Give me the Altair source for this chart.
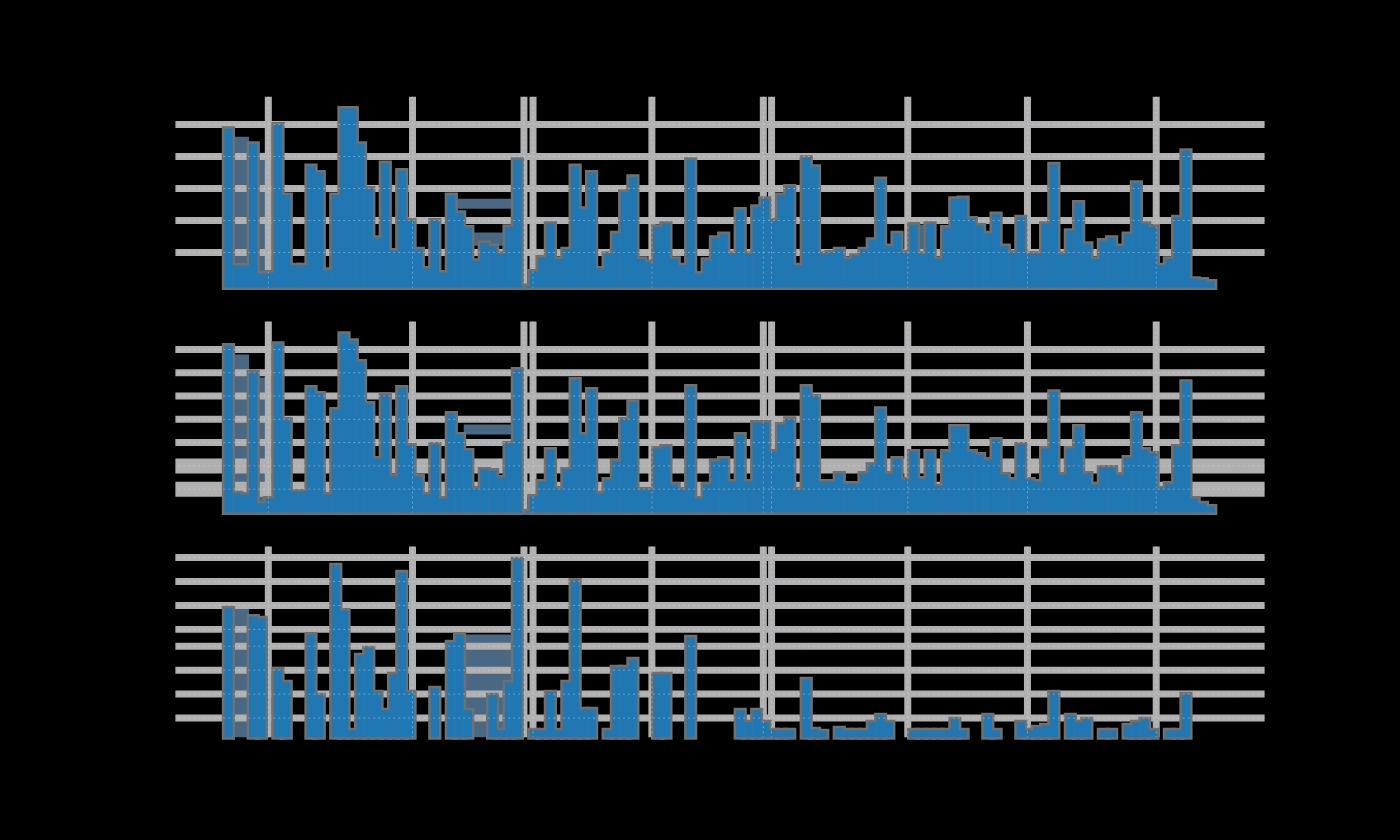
import altair as alt
import pandas as pd

# ---- data ----
panel1 = [49.7, 6.9, 6.9, 45, 4.4, 4.7, 51, 29, 7, 7,
          38, 36, 5.6, 29, 56, 56, 45, 31, 15.6, 39,
          11.6, 36.6, 21, 12, 6, 21, 4.7, 29, 23.4, 18.8,
          8.4, 14, 13, 10.6, 19, 40, 0.5, 5, 9.4, 20,
          9, 12, 38, 24.7, 36, 6, 10.6, 17, 30, 34.7,
          9, 8, 19, 20, 9, 7, 40, 4.4, 8.7, 15.6,
          16.8, 10.6, 24.4, 10.6, 25.3, 27.8, 21, 29, 31.6, 7,
          40.6, 37.8, 10.6, 11, 12, 9, 10, 12, 15, 34,
          13, 17, 11, 19.7, 10.6, 20, 9, 18.8, 27.8, 28,
          21.6, 19.4, 17, 23, 13, 11, 22, 10.6, 10.6, 20,
          38.6, 10.6, 17.8, 26.6, 13.7, 9, 14.7, 15.6, 13, 16.8,
          32.8, 20, 19, 7, 9, 22, 42.8, 2.8, 2.5, 1.9]

panel2 = [71.7, 8.2, 7.7, 60.1, 3.9, 6.0, 72.5, 39.9, 9.0, 9.0,
          53.7, 51.1, 7.7, 44.2, 76.8, 73.8, 64.8, 46.8, 23.2, 50.6,
          15.5, 53.7, 28.8, 15.5, 7.7, 29.2, 6.0, 42.5, 33.5, 26.6,
          10.3, 18.5, 18.0, 15.0, 29.6, 61.4, 0.4, 6.9, 13.3, 27.0,
          10.3, 18.5, 57.1, 33.5, 52.8, 8.2, 14.2, 21.9, 39.9, 47.6,
          9.9, 9.9, 27.5, 28.3, 12.0, 9.9, 54.1, 6.0, 12.0, 21.9,
          23.2, 13.3, 33.5, 13.3, 38.6, 38.6, 26.2, 37.8, 40.3, 9.9,
          54.1, 49.8, 13.3, 13.3, 16.7, 12.4, 12.4, 16.7, 20.6, 44.6,
          16.7, 23.2, 14.2, 26.2, 14.6, 26.2, 11.2, 26.2, 36.9, 36.9,
          26.2, 24.9, 22.7, 31.3, 16.3, 14.2, 29.2, 14.2, 13.3, 27.5,
          51.9, 16.3, 27.5, 36.9, 16.7, 12.0, 19.3, 19.3, 16.3, 23.6,
          42.5, 27.0, 25.3, 10.3, 12.4, 28.3, 56.2, 6.0, 3.9, 2.6]

panel3 = [53.8, 0, 0, 50.4, 49.6, 0, 28.3, 22.9, 0, 0,
          42.9, 17.5, 0, 71.7, 52.9, 2.9, 34.2, 37.1, 18.8, 11.3,
          26.3, 68.8, 18.8, 0, 0, 20.4, 0, 39.6, 42.9, 11.3,
          0, 0, 17.5, 2.9, 22.9, 74.2, 0, 2.9, 2.9, 18.8,
          2.9, 22.9, 65.4, 11.7, 11.7, 0, 2.9, 29.2, 29.2, 32.5,
          0, 0, 26.3, 26.3, 0, 0, 41.7, 0, 0, 0,
          0, 0, 11.3, 6.3, 11.3, 6.3, 2.9, 2.9, 2.9, 0,
          24.2, 3.3, 2.5, 0, 3.8, 2.9, 2.9, 2.9, 6.3, 9.2,
          6.3, 0, 0, 2.9, 2.9, 2.9, 2.9, 2.9, 7.5, 2.9,
          0, 0, 9.2, 2.9, 0, 0, 6.3, 2.9, 4.2, 5,
          18.8, 0, 9.2, 6.3, 7.5, 0, 2.9, 2.9, 0, 5,
          6.3, 7.5, 2.9, 0, 2.9, 2.9, 17.9, 0, 0, 0]

# shaded (slate) ranges behind the bars: first bin, last bin, low, high
shade1 = [(1, 2, 6.9, 47.2), (4, 4, 4.4, 42.2), (28, 34, 24.7, 27.8),
          (30, 33, 13.1, 17.2), (84, 84, 10.6, 19.7)]
shade2 = [(1, 2, 7.7, 67.8), (4, 4, 3.9, 58.0), (29, 34, 33.5, 37.8)]
shade3 = [(1, 2, 0, 55.4), (29, 34, 0, 42.9)]

x_ticks = [5.33, 22.8, 36.3, 37.4, 51.8, 65.3, 66.3, 82.8, 97.3, 112.9]
y_ticks1 = [11, 21, 31, 41, 51]
y_ticks2 = [30, 40, 50, 60, 70]
y_ticks2_thick = [10, 20]
y_ticks3 = [8, 18, 28, 38, 45, 55, 65, 75]
y_max = [59.7, 82.0, 79.6]
x_domain = [-5.93, 126.03]

BLUE = "#1f77b4"
GRID = "#b0b0b0"
EDGE = "#707070"
SLATE = "#4a6883"
W, H = 1090, 191

xs = alt.Scale(domain=x_domain, nice=False, zero=False)


def panel(values, ymax, thin, thick, shade):
    df = pd.DataFrame({"i": list(range(len(values))), "v": values})
    sd = pd.DataFrame(shade, columns=["a", "b", "lo", "hi"])
    ys = alt.Scale(domain=[0, ymax], nice=False, zero=True)
    base = alt.Chart(df).transform_calculate(i1="datum.i + 1")
    slate = alt.Chart(sd).transform_calculate(b1="datum.b + 1").mark_rect(
        color=SLATE).encode(
        x=alt.X("a:Q", scale=xs, axis=None), x2="b1:Q",
        y=alt.Y("lo:Q", scale=ys, axis=None), y2="hi:Q")
    vgrid = alt.Chart(pd.DataFrame({"t": x_ticks})).mark_rule(
        color=GRID, strokeWidth=7).encode(x=alt.X("t:Q", scale=xs, axis=None))
    hgrid = alt.Chart(pd.DataFrame({"t": thin})).mark_rule(
        color=GRID, strokeWidth=7).encode(y=alt.Y("t:Q", scale=ys, axis=None))
    layers = [slate, vgrid, hgrid]
    if thick:
        layers.append(alt.Chart(pd.DataFrame({"t": thick})).mark_rule(
            color=GRID, strokeWidth=15).encode(y=alt.Y("t:Q", scale=ys, axis=None)))
    edge = base.transform_filter("datum.v > 0").mark_bar(
        color=EDGE, stroke=EDGE, strokeWidth=5).encode(
        x=alt.X("i:Q", scale=xs, axis=None), x2="i1:Q",
        y=alt.Y("v:Q", scale=ys, axis=None), y2=alt.datum(0))
    bars = base.mark_bar(color=BLUE).encode(
        x=alt.X("i:Q", scale=xs, axis=None), x2="i1:Q",
        y=alt.Y("v:Q", scale=ys, axis=None), y2=alt.datum(0))
    faint_v = alt.Chart(pd.DataFrame({"t": x_ticks})).mark_rule(
        color="#cfe3f3", strokeWidth=1, opacity=0.45, strokeDash=[2, 3]).encode(
        x=alt.X("t:Q", scale=xs, axis=None))
    faint_h = alt.Chart(pd.DataFrame({"t": thin + thick})).mark_rule(
        color="#cfe3f3", strokeWidth=1, opacity=0.45, strokeDash=[2, 3]).encode(
        y=alt.Y("t:Q", scale=ys, axis=None))
    layers += [edge, bars, faint_v, faint_h]
    return alt.layer(*layers).properties(width=W, height=H)


chart = alt.vconcat(
    panel(panel1, y_max[0], y_ticks1, [], shade1),
    panel(panel2, y_max[1], y_ticks2, y_ticks2_thick, shade2),
    panel(panel3, y_max[2], y_ticks3, [], shade3),
    spacing=26,
).properties(
    background="#000000",
    padding={"left": 167.5, "top": 92.5, "right": 127.5, "bottom": 101},
    autosize=alt.AutoSizeParams(type="pad"),
).configure_view(strokeWidth=0)

chart.save("out.html", embed_options={"renderer": "svg", "actions": False})
